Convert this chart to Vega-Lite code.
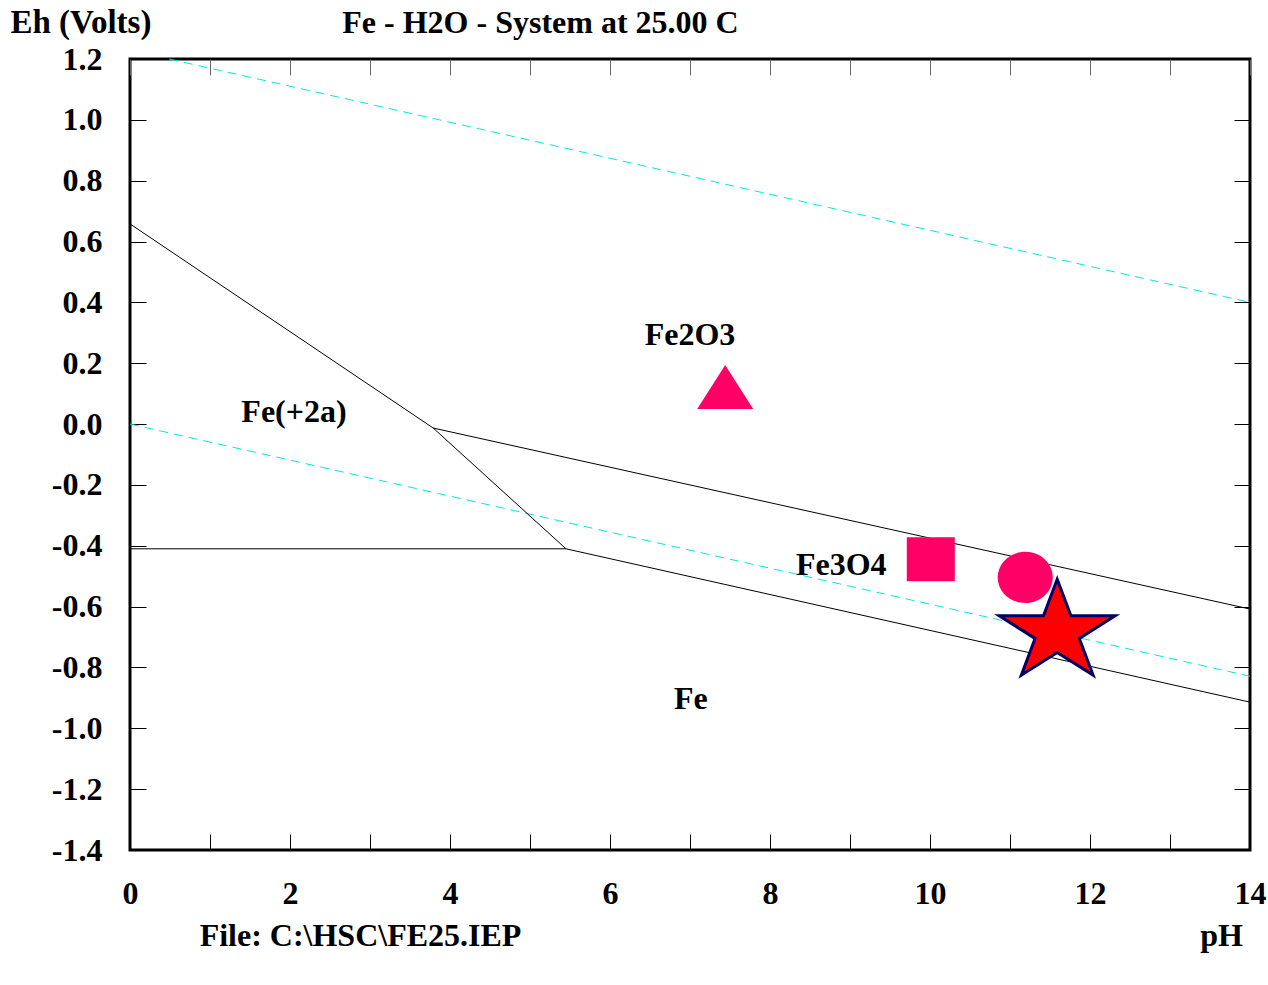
{
  "$schema": "https://vega.github.io/schema/vega-lite/v6.json",
  "width": 1120,
  "height": 791,
  "autosize": {"type": "none"},
  "padding": {"left": 130, "top": 59, "right": 18, "bottom": 135},
  "background": "white",
  "config": {
    "view": {"stroke": "black", "strokeWidth": 3},
    "font": "Liberation Serif",
    "axis": {"grid": false, "domain": false, "labelFont": "Liberation Serif", "labelFontWeight": "bold", "labelFontSize": 32, "labelColor": "black", "titleFont": "Liberation Serif", "titleFontWeight": "bold", "titleFontSize": 32, "titleColor": "black", "tickColor": "black", "tickSize": -16, "tickWidth": 1, "labelFlush": false}
  },
  "datasets": {
    "water": [
      {"seg": "O2", "i": 0, "pH": 0.49, "Eh": 1.2},
      {"seg": "O2", "i": 1, "pH": 14, "Eh": 0.4},
      {"seg": "H2", "i": 0, "pH": 0, "Eh": 0.0},
      {"seg": "H2", "i": 1, "pH": 14, "Eh": -0.829}
    ],
    "bounds": [
      {"seg": "a", "i": 0, "pH": 0, "Eh": 0.658},
      {"seg": "a", "i": 1, "pH": 3.79, "Eh": -0.013},
      {"seg": "a", "i": 2, "pH": 5.45, "Eh": -0.41},
      {"seg": "b", "i": 0, "pH": 0, "Eh": -0.41},
      {"seg": "b", "i": 1, "pH": 5.45, "Eh": -0.41},
      {"seg": "b", "i": 2, "pH": 14, "Eh": -0.914},
      {"seg": "c", "i": 0, "pH": 3.79, "Eh": -0.013},
      {"seg": "c", "i": 1, "pH": 14, "Eh": -0.608}
    ],
    "labels": [
      {"name": "Fe2O3", "pH": 7.0, "Eh": 0.293},
      {"name": "Fe(+2a)", "pH": 2.05, "Eh": 0.04},
      {"name": "Fe3O4", "pH": 8.89, "Eh": -0.463},
      {"name": "Fe", "pH": 7.01, "Eh": -0.904}
    ],
    "symbols": [
      {"sym": "triangle", "pH": 7.44, "Eh": 0.122},
      {"sym": "square", "pH": 10.01, "Eh": -0.444},
      {"sym": "circle", "pH": 11.19, "Eh": -0.504},
      {"sym": "star", "pH": 11.59, "Eh": -0.684}
    ]
  },
  "layer": [
    {
      "data": {"name": "water"},
      "mark": {"type": "line", "color": "#00e8e8", "strokeWidth": 1, "strokeDash": [9, 6]},
      "encoding": {
        "x": {"field": "pH", "type": "quantitative", "scale": {"domain": [0, 14], "nice": false, "zero": false},
          "axis": {"orient": "bottom", "values": [0,1,2,3,4,5,6,7,8,9,10,11,12,13,14], "labelExpr": "datum.value % 2 === 0 ? datum.label : ''", "labelPadding": 44, "labelBaseline": "top", "title": "File: C:\\HSC\\FE25.IEP", "titleX": 230, "titleY": 85, "titleAlign": "center", "titleBaseline": "middle", "titleAngle": 0}},
        "y": {"field": "Eh", "type": "quantitative", "scale": {"domain": [-1.4, 1.2], "nice": false, "zero": false},
          "axis": {"orient": "left", "values": [-1.4,-1.2,-1.0,-0.8,-0.6,-0.4,-0.2,0,0.2,0.4,0.6,0.8,1.0,1.2], "labelExpr": "replace(format(datum.value, '.1f'), '\u2212', '-')", "labelPadding": 44, "title": "Eh (Volts)", "titleFontSize": 33, "titleAngle": 0, "titleX": -120, "titleY": -37, "titleAlign": "left", "titleBaseline": "middle"}},
        "detail": {"field": "seg"},
        "order": {"field": "i"}
      }
    },
    {
      "data": {"name": "bounds"},
      "mark": {"type": "line", "color": "black", "strokeWidth": 1},
      "encoding": {
        "x": {"field": "pH", "type": "quantitative", "scale": {"domain": [0, 14], "nice": false, "zero": false},
          "axis": {"orient": "top", "values": [0,1,2,3,4,5,6,7,8,9,10,11,12,13,14], "labels": false, "tickColor": "#666666", "title": "Fe - H2O - System at 25.00 C", "titleX": 410, "titleY": -37, "titleAlign": "center", "titleBaseline": "middle", "titleAngle": 0}},
        "y": {"field": "Eh", "type": "quantitative", "scale": {"domain": [-1.4, 1.2], "nice": false, "zero": false},
          "axis": {"orient": "right", "values": [-1.4,-1.2,-1.0,-0.8,-0.6,-0.4,-0.2,0,0.2,0.4,0.6,0.8,1.0,1.2], "labels": false, "title": "pH", "titleAngle": 0, "titleX": -29, "titleY": 876, "titleAlign": "center", "titleBaseline": "middle"}},
        "detail": {"field": "seg"},
        "order": {"field": "i"}
      }
    },
    {
      "data": {"name": "labels"},
      "mark": {"type": "text", "font": "Liberation Serif", "fontWeight": "bold", "fontSize": 32, "color": "black", "align": "center", "baseline": "middle"},
      "encoding": {
        "x": {"field": "pH", "type": "quantitative", "axis": null},
        "y": {"field": "Eh", "type": "quantitative", "axis": null},
        "text": {"field": "name"}
      }
    },
    {
      "data": {"name": "symbols"},
      "transform": [{"filter": "datum.sym === 'triangle'"}],
      "mark": {"type": "point", "filled": true, "color": "#ff0066", "opacity": 1, "shape": "M0,-0.786L1,0.786L-1,0.786Z", "size": 3136},
      "encoding": {
        "x": {"field": "pH", "type": "quantitative", "axis": null},
        "y": {"field": "Eh", "type": "quantitative", "axis": null}
      }
    },
    {
      "data": {"name": "symbols"},
      "transform": [{"filter": "datum.sym === 'square'"}],
      "mark": {"type": "point", "filled": true, "color": "#ff0066", "opacity": 1, "shape": "M-1,-0.917L1,-0.917L1,0.917L-1,0.917Z", "size": 2304},
      "encoding": {
        "x": {"field": "pH", "type": "quantitative", "axis": null},
        "y": {"field": "Eh", "type": "quantitative", "axis": null}
      }
    },
    {
      "data": {"name": "symbols"},
      "transform": [{"filter": "datum.sym === 'circle'"}],
      "mark": {"type": "point", "filled": true, "color": "#ff0066", "opacity": 1, "shape": "M-1,0A1,0.93 0 1,0 1,0A1,0.93 0 1,0 -1,0Z", "size": 3025},
      "encoding": {
        "x": {"field": "pH", "type": "quantitative", "axis": null},
        "y": {"field": "Eh", "type": "quantitative", "axis": null}
      }
    },
    {
      "data": {"name": "symbols"},
      "transform": [{"filter": "datum.sym === 'star'"}],
      "mark": {"type": "point", "filled": true, "fill": "#ff0000", "stroke": "#000066", "strokeWidth": 3, "opacity": 1, "shape": "M0,-1.06L0.274,-0.328L1.159,-0.328L0.443,0.125L0.717,0.858L0,0.405L-0.717,0.858L-0.443,0.125L-1.159,-0.328L-0.274,-0.328Z", "size": 10000},
      "encoding": {
        "x": {"field": "pH", "type": "quantitative", "axis": null},
        "y": {"field": "Eh", "type": "quantitative", "axis": null}
      }
    }
  ],
  "resolve": {"axis": {"x": "independent", "y": "independent"}}
}
